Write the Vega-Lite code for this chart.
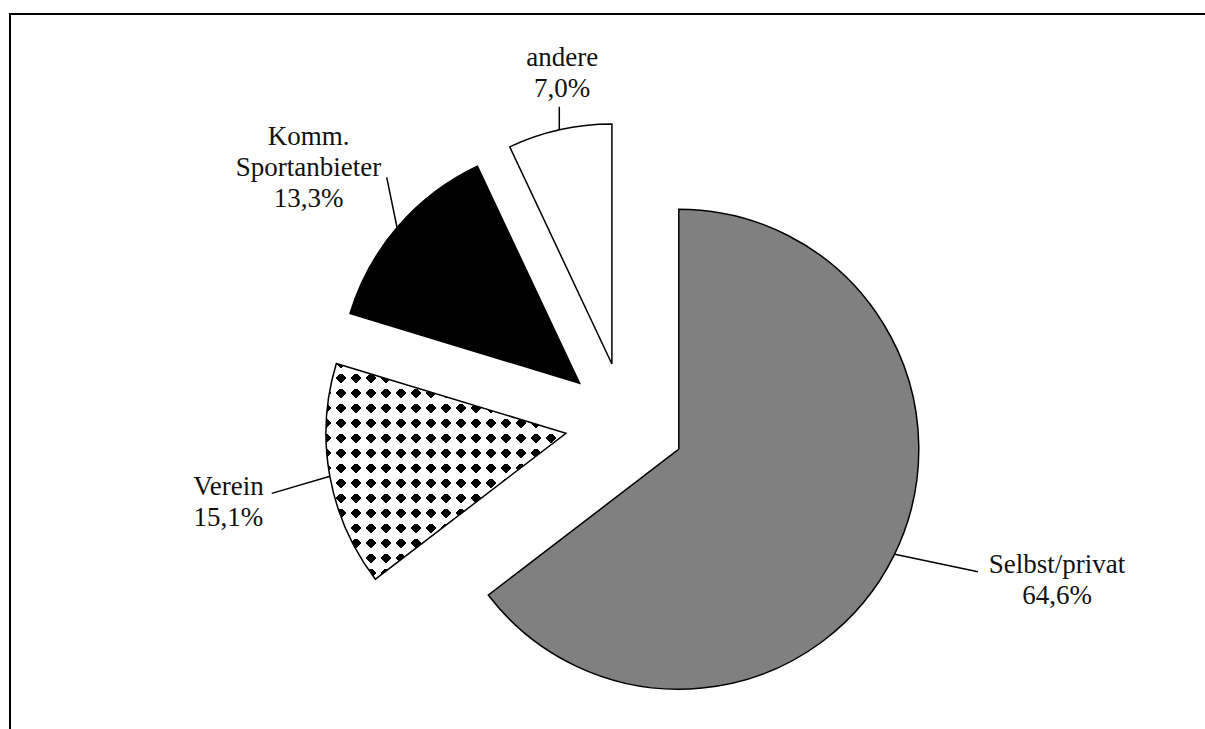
{
  "$schema": "https://vega.github.io/schema/vega-lite/v6.json",
  "width": 1198,
  "height": 718,
  "autosize": {"type": "none"},
  "padding": {"left": 10, "top": 14, "right": -3, "bottom": -3},
  "background": "white",
  "config": {"view": {"stroke": null}},
  "data": {"values": [
    {"cat": "Selbst/privat", "value": 64.6, "label": "Selbst/privat\n64,6%"},
    {"cat": "Verein", "value": 15.1, "label": "Verein\n15,1%"},
    {"cat": "Komm. Sportanbieter", "value": 13.3, "label": "Komm.\nSportanbieter\n13,3%"},
    {"cat": "andere", "value": 7.0, "label": "andere\n7,0%"}
  ]},
  "transform": [
    {"window": [{"op": "sum", "field": "value", "as": "end"}], "frame": [null, 0]},
    {"calculate": "datum.end - datum.value", "as": "start"},
    {"calculate": "(datum.start + datum.end) / 2", "as": "mid"}
  ],
  "layer": [
    {"transform": [{"filter": "datum.cat === 'Selbst/privat'"}],
     "mark": {"type": "rect", "filled": false, "stroke": "black", "strokeWidth": 2},
     "encoding": {}},
    {"transform": [{"filter": "datum.cat === 'Selbst/privat'"}],
     "mark": {"type": "arc", "radius": 240, "fill": "#808080", "stroke": "black", "strokeWidth": 1.5, "xOffset": 69.8, "yOffset": 76.17},
     "encoding": {"theta": {"field": "start", "type": "quantitative", "scale": {"domain": [0, 100]}, "stack": null}, "theta2": {"field": "end"}}},
    {"transform": [{"filter": "datum.cat === 'Verein'"}],
     "mark": {"type": "arc", "radius": 240, "fill": "black", "xOffset": -43.04, "yOffset": 60.29},
     "encoding": {"theta": {"field": "start", "type": "quantitative", "scale": {"domain": [0, 100]}, "stack": null}, "theta2": {"field": "end"}}},
    {"transform": [{"filter": "datum.cat === 'Verein'"}],
     "mark": {"type": "arc", "radius": 240, "xOffset": -43.04, "yOffset": 60.29,
       "fill": {"gradient": "linear", "x1": 0, "y1": 0, "x2": 1, "y2": 0, "stops": [
         {"offset": 0.019792, "color": "transparent"}, {"offset": 0.019792, "color": "#fff"}, {"offset": 0.042708, "color": "#fff"}, {"offset": 0.042708, "color": "transparent"},
         {"offset": 0.082292, "color": "transparent"}, {"offset": 0.082292, "color": "#fff"}, {"offset": 0.105208, "color": "#fff"}, {"offset": 0.105208, "color": "transparent"},
         {"offset": 0.144792, "color": "transparent"}, {"offset": 0.144792, "color": "#fff"}, {"offset": 0.167708, "color": "#fff"}, {"offset": 0.167708, "color": "transparent"},
         {"offset": 0.207292, "color": "transparent"}, {"offset": 0.207292, "color": "#fff"}, {"offset": 0.230208, "color": "#fff"}, {"offset": 0.230208, "color": "transparent"},
         {"offset": 0.269792, "color": "transparent"}, {"offset": 0.269792, "color": "#fff"}, {"offset": 0.292708, "color": "#fff"}, {"offset": 0.292708, "color": "transparent"},
         {"offset": 0.332292, "color": "transparent"}, {"offset": 0.332292, "color": "#fff"}, {"offset": 0.355208, "color": "#fff"}, {"offset": 0.355208, "color": "transparent"},
         {"offset": 0.394792, "color": "transparent"}, {"offset": 0.394792, "color": "#fff"}, {"offset": 0.417708, "color": "#fff"}, {"offset": 0.417708, "color": "transparent"},
         {"offset": 0.457292, "color": "transparent"}, {"offset": 0.457292, "color": "#fff"}, {"offset": 0.480208, "color": "#fff"}, {"offset": 0.480208, "color": "transparent"},
         {"offset": 0.519792, "color": "transparent"}, {"offset": 0.519792, "color": "#fff"}, {"offset": 0.542708, "color": "#fff"}, {"offset": 0.542708, "color": "transparent"},
         {"offset": 0.582292, "color": "transparent"}, {"offset": 0.582292, "color": "#fff"}, {"offset": 0.605208, "color": "#fff"}, {"offset": 0.605208, "color": "transparent"},
         {"offset": 0.644792, "color": "transparent"}, {"offset": 0.644792, "color": "#fff"}, {"offset": 0.667708, "color": "#fff"}, {"offset": 0.667708, "color": "transparent"},
         {"offset": 0.707292, "color": "transparent"}, {"offset": 0.707292, "color": "#fff"}, {"offset": 0.730208, "color": "#fff"}, {"offset": 0.730208, "color": "transparent"},
         {"offset": 0.769792, "color": "transparent"}, {"offset": 0.769792, "color": "#fff"}, {"offset": 0.792708, "color": "#fff"}, {"offset": 0.792708, "color": "transparent"},
         {"offset": 0.832292, "color": "transparent"}, {"offset": 0.832292, "color": "#fff"}, {"offset": 0.855208, "color": "#fff"}, {"offset": 0.855208, "color": "transparent"},
         {"offset": 0.894792, "color": "transparent"}, {"offset": 0.894792, "color": "#fff"}, {"offset": 0.917708, "color": "#fff"}, {"offset": 0.917708, "color": "transparent"},
         {"offset": 0.957292, "color": "transparent"}, {"offset": 0.957292, "color": "#fff"}, {"offset": 0.980208, "color": "#fff"}, {"offset": 0.980208, "color": "transparent"}
       ]}},
     "encoding": {"theta": {"field": "start", "type": "quantitative", "scale": {"domain": [0, 100]}, "stack": null}, "theta2": {"field": "end"}}},
    {"transform": [{"filter": "datum.cat === 'Verein'"}],
     "mark": {"type": "arc", "radius": 240, "xOffset": -43.04, "yOffset": 60.29,
       "fill": {"gradient": "linear", "x1": 0, "y1": 0, "x2": 0, "y2": 1, "stops": [
         {"offset": 0.022016, "color": "transparent"}, {"offset": 0.022016, "color": "#fff"}, {"offset": 0.047509, "color": "#fff"}, {"offset": 0.047509, "color": "transparent"},
         {"offset": 0.091541, "color": "transparent"}, {"offset": 0.091541, "color": "#fff"}, {"offset": 0.117034, "color": "#fff"}, {"offset": 0.117034, "color": "transparent"},
         {"offset": 0.161066, "color": "transparent"}, {"offset": 0.161066, "color": "#fff"}, {"offset": 0.186559, "color": "#fff"}, {"offset": 0.186559, "color": "transparent"},
         {"offset": 0.230591, "color": "transparent"}, {"offset": 0.230591, "color": "#fff"}, {"offset": 0.256084, "color": "#fff"}, {"offset": 0.256084, "color": "transparent"},
         {"offset": 0.300116, "color": "transparent"}, {"offset": 0.300116, "color": "#fff"}, {"offset": 0.325609, "color": "#fff"}, {"offset": 0.325609, "color": "transparent"},
         {"offset": 0.369641, "color": "transparent"}, {"offset": 0.369641, "color": "#fff"}, {"offset": 0.395134, "color": "#fff"}, {"offset": 0.395134, "color": "transparent"},
         {"offset": 0.439166, "color": "transparent"}, {"offset": 0.439166, "color": "#fff"}, {"offset": 0.464659, "color": "#fff"}, {"offset": 0.464659, "color": "transparent"},
         {"offset": 0.508691, "color": "transparent"}, {"offset": 0.508691, "color": "#fff"}, {"offset": 0.534184, "color": "#fff"}, {"offset": 0.534184, "color": "transparent"},
         {"offset": 0.578215, "color": "transparent"}, {"offset": 0.578215, "color": "#fff"}, {"offset": 0.603708, "color": "#fff"}, {"offset": 0.603708, "color": "transparent"},
         {"offset": 0.64774, "color": "transparent"}, {"offset": 0.64774, "color": "#fff"}, {"offset": 0.673233, "color": "#fff"}, {"offset": 0.673233, "color": "transparent"},
         {"offset": 0.717265, "color": "transparent"}, {"offset": 0.717265, "color": "#fff"}, {"offset": 0.742758, "color": "#fff"}, {"offset": 0.742758, "color": "transparent"},
         {"offset": 0.78679, "color": "transparent"}, {"offset": 0.78679, "color": "#fff"}, {"offset": 0.812283, "color": "#fff"}, {"offset": 0.812283, "color": "transparent"},
         {"offset": 0.856315, "color": "transparent"}, {"offset": 0.856315, "color": "#fff"}, {"offset": 0.881808, "color": "#fff"}, {"offset": 0.881808, "color": "transparent"},
         {"offset": 0.92584, "color": "transparent"}, {"offset": 0.92584, "color": "#fff"}, {"offset": 0.951333, "color": "#fff"}, {"offset": 0.951333, "color": "transparent"}
       ]}},
     "encoding": {"theta": {"field": "start", "type": "quantitative", "scale": {"domain": [0, 100]}, "stack": null}, "theta2": {"field": "end"}}},
    {"transform": [{"filter": "datum.cat === 'Verein'"}],
     "mark": {"type": "arc", "radius": 240, "xOffset": -43.04, "yOffset": 60.29,
       "fill": {"gradient": "linear", "x1": 0, "y1": 0, "x2": 1.10612, "y2": 0.99436, "stops": [
         {"offset": 0.011458, "color": "transparent"}, {"offset": 0.011458, "color": "#fff"}, {"offset": 0.019792, "color": "#fff"}, {"offset": 0.019792, "color": "transparent"},
         {"offset": 0.042708, "color": "transparent"}, {"offset": 0.042708, "color": "#fff"}, {"offset": 0.051042, "color": "#fff"}, {"offset": 0.051042, "color": "transparent"},
         {"offset": 0.073958, "color": "transparent"}, {"offset": 0.073958, "color": "#fff"}, {"offset": 0.082292, "color": "#fff"}, {"offset": 0.082292, "color": "transparent"},
         {"offset": 0.105208, "color": "transparent"}, {"offset": 0.105208, "color": "#fff"}, {"offset": 0.113542, "color": "#fff"}, {"offset": 0.113542, "color": "transparent"},
         {"offset": 0.136458, "color": "transparent"}, {"offset": 0.136458, "color": "#fff"}, {"offset": 0.144792, "color": "#fff"}, {"offset": 0.144792, "color": "transparent"},
         {"offset": 0.167708, "color": "transparent"}, {"offset": 0.167708, "color": "#fff"}, {"offset": 0.176042, "color": "#fff"}, {"offset": 0.176042, "color": "transparent"},
         {"offset": 0.198958, "color": "transparent"}, {"offset": 0.198958, "color": "#fff"}, {"offset": 0.207292, "color": "#fff"}, {"offset": 0.207292, "color": "transparent"},
         {"offset": 0.230208, "color": "transparent"}, {"offset": 0.230208, "color": "#fff"}, {"offset": 0.238542, "color": "#fff"}, {"offset": 0.238542, "color": "transparent"},
         {"offset": 0.261458, "color": "transparent"}, {"offset": 0.261458, "color": "#fff"}, {"offset": 0.269792, "color": "#fff"}, {"offset": 0.269792, "color": "transparent"},
         {"offset": 0.292708, "color": "transparent"}, {"offset": 0.292708, "color": "#fff"}, {"offset": 0.301042, "color": "#fff"}, {"offset": 0.301042, "color": "transparent"},
         {"offset": 0.323958, "color": "transparent"}, {"offset": 0.323958, "color": "#fff"}, {"offset": 0.332292, "color": "#fff"}, {"offset": 0.332292, "color": "transparent"},
         {"offset": 0.355208, "color": "transparent"}, {"offset": 0.355208, "color": "#fff"}, {"offset": 0.363542, "color": "#fff"}, {"offset": 0.363542, "color": "transparent"},
         {"offset": 0.386458, "color": "transparent"}, {"offset": 0.386458, "color": "#fff"}, {"offset": 0.394792, "color": "#fff"}, {"offset": 0.394792, "color": "transparent"},
         {"offset": 0.417708, "color": "transparent"}, {"offset": 0.417708, "color": "#fff"}, {"offset": 0.426042, "color": "#fff"}, {"offset": 0.426042, "color": "transparent"},
         {"offset": 0.448958, "color": "transparent"}, {"offset": 0.448958, "color": "#fff"}, {"offset": 0.457292, "color": "#fff"}, {"offset": 0.457292, "color": "transparent"},
         {"offset": 0.480208, "color": "transparent"}, {"offset": 0.480208, "color": "#fff"}, {"offset": 0.488542, "color": "#fff"}, {"offset": 0.488542, "color": "transparent"},
         {"offset": 0.511458, "color": "transparent"}, {"offset": 0.511458, "color": "#fff"}, {"offset": 0.519792, "color": "#fff"}, {"offset": 0.519792, "color": "transparent"},
         {"offset": 0.542708, "color": "transparent"}, {"offset": 0.542708, "color": "#fff"}, {"offset": 0.551042, "color": "#fff"}, {"offset": 0.551042, "color": "transparent"},
         {"offset": 0.573958, "color": "transparent"}, {"offset": 0.573958, "color": "#fff"}, {"offset": 0.582292, "color": "#fff"}, {"offset": 0.582292, "color": "transparent"},
         {"offset": 0.605208, "color": "transparent"}, {"offset": 0.605208, "color": "#fff"}, {"offset": 0.613542, "color": "#fff"}, {"offset": 0.613542, "color": "transparent"},
         {"offset": 0.636458, "color": "transparent"}, {"offset": 0.636458, "color": "#fff"}, {"offset": 0.644792, "color": "#fff"}, {"offset": 0.644792, "color": "transparent"}
       ]}},
     "encoding": {"theta": {"field": "start", "type": "quantitative", "scale": {"domain": [0, 100]}, "stack": null}, "theta2": {"field": "end"}}},
    {"transform": [{"filter": "datum.cat === 'Verein'"}],
     "mark": {"type": "arc", "radius": 240, "xOffset": -43.04, "yOffset": 60.29,
       "fill": {"gradient": "linear", "x1": 0, "y1": 1, "x2": 1.10612, "y2": 0.00564, "stops": [
         {"offset": 0.085938, "color": "transparent"}, {"offset": 0.085938, "color": "#fff"}, {"offset": 0.094271, "color": "#fff"}, {"offset": 0.094271, "color": "transparent"},
         {"offset": 0.117188, "color": "transparent"}, {"offset": 0.117188, "color": "#fff"}, {"offset": 0.125521, "color": "#fff"}, {"offset": 0.125521, "color": "transparent"},
         {"offset": 0.148438, "color": "transparent"}, {"offset": 0.148438, "color": "#fff"}, {"offset": 0.156771, "color": "#fff"}, {"offset": 0.156771, "color": "transparent"},
         {"offset": 0.179688, "color": "transparent"}, {"offset": 0.179688, "color": "#fff"}, {"offset": 0.188021, "color": "#fff"}, {"offset": 0.188021, "color": "transparent"},
         {"offset": 0.210938, "color": "transparent"}, {"offset": 0.210938, "color": "#fff"}, {"offset": 0.219271, "color": "#fff"}, {"offset": 0.219271, "color": "transparent"},
         {"offset": 0.242188, "color": "transparent"}, {"offset": 0.242188, "color": "#fff"}, {"offset": 0.250521, "color": "#fff"}, {"offset": 0.250521, "color": "transparent"},
         {"offset": 0.273438, "color": "transparent"}, {"offset": 0.273438, "color": "#fff"}, {"offset": 0.281771, "color": "#fff"}, {"offset": 0.281771, "color": "transparent"},
         {"offset": 0.304688, "color": "transparent"}, {"offset": 0.304688, "color": "#fff"}, {"offset": 0.313021, "color": "#fff"}, {"offset": 0.313021, "color": "transparent"},
         {"offset": 0.335938, "color": "transparent"}, {"offset": 0.335938, "color": "#fff"}, {"offset": 0.344271, "color": "#fff"}, {"offset": 0.344271, "color": "transparent"},
         {"offset": 0.367188, "color": "transparent"}, {"offset": 0.367188, "color": "#fff"}, {"offset": 0.375521, "color": "#fff"}, {"offset": 0.375521, "color": "transparent"},
         {"offset": 0.398438, "color": "transparent"}, {"offset": 0.398438, "color": "#fff"}, {"offset": 0.406771, "color": "#fff"}, {"offset": 0.406771, "color": "transparent"},
         {"offset": 0.429688, "color": "transparent"}, {"offset": 0.429688, "color": "#fff"}, {"offset": 0.438021, "color": "#fff"}, {"offset": 0.438021, "color": "transparent"},
         {"offset": 0.460938, "color": "transparent"}, {"offset": 0.460938, "color": "#fff"}, {"offset": 0.469271, "color": "#fff"}, {"offset": 0.469271, "color": "transparent"},
         {"offset": 0.492188, "color": "transparent"}, {"offset": 0.492188, "color": "#fff"}, {"offset": 0.500521, "color": "#fff"}, {"offset": 0.500521, "color": "transparent"},
         {"offset": 0.523438, "color": "transparent"}, {"offset": 0.523438, "color": "#fff"}, {"offset": 0.531771, "color": "#fff"}, {"offset": 0.531771, "color": "transparent"},
         {"offset": 0.554688, "color": "transparent"}, {"offset": 0.554688, "color": "#fff"}, {"offset": 0.563021, "color": "#fff"}, {"offset": 0.563021, "color": "transparent"},
         {"offset": 0.585938, "color": "transparent"}, {"offset": 0.585938, "color": "#fff"}, {"offset": 0.594271, "color": "#fff"}, {"offset": 0.594271, "color": "transparent"},
         {"offset": 0.617188, "color": "transparent"}, {"offset": 0.617188, "color": "#fff"}, {"offset": 0.625521, "color": "#fff"}, {"offset": 0.625521, "color": "transparent"},
         {"offset": 0.648438, "color": "transparent"}, {"offset": 0.648438, "color": "#fff"}, {"offset": 0.656771, "color": "#fff"}, {"offset": 0.656771, "color": "transparent"},
         {"offset": 0.679688, "color": "transparent"}, {"offset": 0.679688, "color": "#fff"}, {"offset": 0.688021, "color": "#fff"}, {"offset": 0.688021, "color": "transparent"},
         {"offset": 0.710938, "color": "transparent"}, {"offset": 0.710938, "color": "#fff"}, {"offset": 0.719271, "color": "#fff"}, {"offset": 0.719271, "color": "transparent"},
         {"offset": 0.742188, "color": "transparent"}, {"offset": 0.742188, "color": "#fff"}, {"offset": 0.750521, "color": "#fff"}, {"offset": 0.750521, "color": "transparent"},
         {"offset": 0.773438, "color": "transparent"}, {"offset": 0.773438, "color": "#fff"}, {"offset": 0.781771, "color": "#fff"}, {"offset": 0.781771, "color": "transparent"},
         {"offset": 0.804688, "color": "transparent"}, {"offset": 0.804688, "color": "#fff"}, {"offset": 0.813021, "color": "#fff"}, {"offset": 0.813021, "color": "transparent"}
       ]}},
     "encoding": {"theta": {"field": "start", "type": "quantitative", "scale": {"domain": [0, 100]}, "stack": null}, "theta2": {"field": "end"}}},
    {"transform": [{"filter": "datum.cat === 'Verein'"}],
     "mark": {"type": "arc", "radius": 240, "filled": false, "stroke": "black", "strokeWidth": 1.5, "xOffset": -43.04, "yOffset": 60.29},
     "encoding": {"theta": {"field": "start", "type": "quantitative", "scale": {"domain": [0, 100]}, "stack": null}, "theta2": {"field": "end"}}},
    {"transform": [{"filter": "datum.cat === 'Komm. Sportanbieter'"}],
     "mark": {"type": "arc", "radius": 240, "fill": "black", "stroke": "black", "strokeWidth": 1.5, "xOffset": -29.38, "yOffset": 10.35},
     "encoding": {"theta": {"field": "start", "type": "quantitative", "scale": {"domain": [0, 100]}, "stack": null}, "theta2": {"field": "end"}}},
    {"transform": [{"filter": "datum.cat === 'andere'"}],
     "mark": {"type": "arc", "radius": 240, "fill": "white", "stroke": "black", "strokeWidth": 1.5, "xOffset": 2.91, "yOffset": -8.96},
     "encoding": {"theta": {"field": "start", "type": "quantitative", "scale": {"domain": [0, 100]}, "stack": null}, "theta2": {"field": "end"}}},
    {"transform": [{"filter": "datum.cat === 'Selbst/privat'"}],
     "mark": {"type": "arc", "theta": 1.7775, "theta2": 1.7775, "radius": 318, "radius2": 233, "filled": false, "stroke": "black", "strokeWidth": 1.5, "xOffset": 57.7, "yOffset": 133.45},
     "encoding": {}},
    {"transform": [{"filter": "datum.cat === 'Verein'"}],
     "mark": {"type": "arc", "theta": 4.427, "theta2": 4.427, "radius": 299.3, "radius2": 238.5, "filled": false, "stroke": "black", "strokeWidth": 1.5, "xOffset": -50.1, "yOffset": 36.1},
     "encoding": {}},
    {"transform": [{"filter": "datum.cat === 'Komm. Sportanbieter'"}],
     "mark": {"type": "arc", "theta": 6.0808, "theta2": 6.0808, "radius": 240.7, "radius2": 189.7, "filled": false, "stroke": "black", "strokeWidth": 1.5, "xOffset": -173.9, "yOffset": 40.1},
     "encoding": {}},
    {"transform": [{"filter": "datum.cat === 'andere'"}],
     "mark": {"type": "arc", "theta": 0, "theta2": 0, "radius": 257.3, "radius2": 234, "filled": false, "stroke": "black", "strokeWidth": 1.5, "xOffset": -49.7, "yOffset": -9},
     "encoding": {}},
    {"transform": [{"filter": "datum.cat === 'Selbst/privat'"}],
     "mark": {"type": "text", "radius": 394, "dx": 25, "dy": -51, "xOffset": 69.8, "yOffset": 76.17, "align": "center", "baseline": "alphabetic", "font": "Liberation Serif", "fontSize": 27, "lineHeight": 31, "lineBreak": "\n", "color": "#111"},
     "encoding": {"theta": {"field": "mid", "type": "quantitative", "scale": {"domain": [0, 100]}, "stack": null}, "text": {"field": "label", "type": "nominal"}}},
    {"transform": [{"filter": "datum.cat === 'Verein'"}],
     "mark": {"type": "text", "radius": 343, "dx": 0, "dy": 1, "xOffset": -43.04, "yOffset": 60.29, "align": "center", "baseline": "alphabetic", "font": "Liberation Serif", "fontSize": 27, "lineHeight": 31, "lineBreak": "\n", "color": "#111"},
     "encoding": {"theta": {"field": "mid", "type": "quantitative", "scale": {"domain": [0, 100]}, "stack": null}, "text": {"field": "label", "type": "nominal"}}},
    {"transform": [{"filter": "datum.cat === 'Komm. Sportanbieter'"}],
     "mark": {"type": "text", "radius": 361, "dx": 2, "dy": -2, "xOffset": -29.38, "yOffset": 10.35, "align": "center", "baseline": "alphabetic", "font": "Liberation Serif", "fontSize": 27, "lineHeight": 31, "lineBreak": "\n", "color": "#111"},
     "encoding": {"theta": {"field": "mid", "type": "quantitative", "scale": {"domain": [0, 100]}, "stack": null}, "text": {"field": "label", "type": "nominal"}}},
    {"transform": [{"filter": "datum.cat === 'andere'"}],
     "mark": {"type": "text", "radius": 301, "dx": 16, "dy": -4, "xOffset": 2.91, "yOffset": -8.96, "align": "center", "baseline": "alphabetic", "font": "Liberation Serif", "fontSize": 27, "lineHeight": 31, "lineBreak": "\n", "color": "#111"},
     "encoding": {"theta": {"field": "mid", "type": "quantitative", "scale": {"domain": [0, 100]}, "stack": null}, "text": {"field": "label", "type": "nominal"}}}
  ]
}
